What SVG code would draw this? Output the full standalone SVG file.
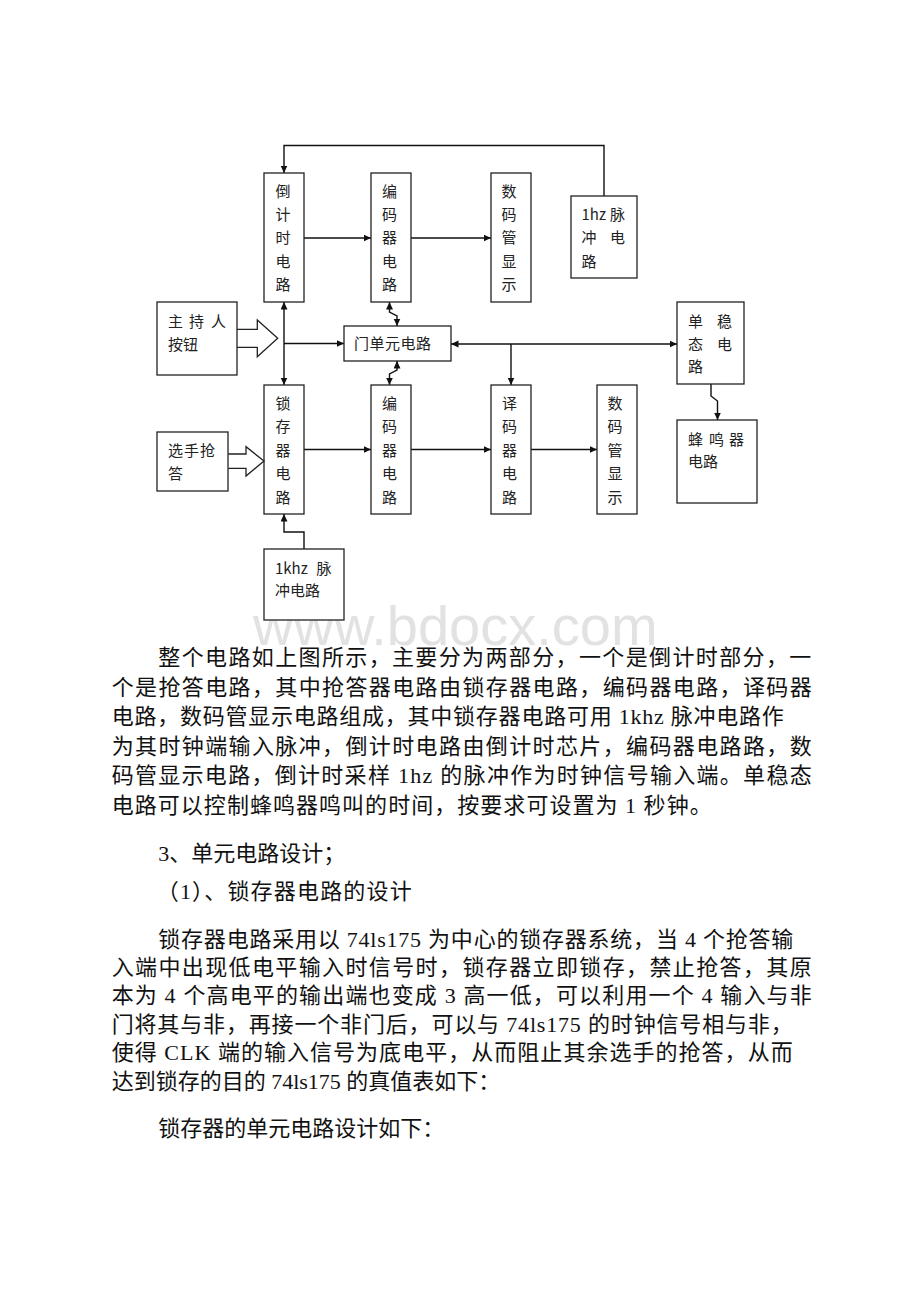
<svg xmlns="http://www.w3.org/2000/svg" width="920" height="1302" viewBox="0 0 920 1302">
<style>
.box{fill:#fff;stroke:#222;stroke-width:1.3}
.blk{fill:#fff;stroke:#222;stroke-width:1.3;stroke-linejoin:miter}
.bt{font-family:"Noto Sans CJK SC","Noto Sans",sans-serif;font-size:15px;fill:#222}
.vt{font-family:"Noto Sans CJK SC","Noto Sans",sans-serif;font-size:15px;fill:#222;text-anchor:middle}
.ln{fill:none;stroke:#111;stroke-width:1.4}
.p{font-family:"Liberation Serif","Noto Sans CJK SC",serif;font-size:22px;fill:#111}
.wm{font-family:"Liberation Sans",Arial,sans-serif;font-size:56px;fill:#e2e2e2}
</style>
<defs>
<marker id="ah" markerWidth="9" markerHeight="9" refX="7.5" refY="3.5" orient="auto-start-reverse" markerUnits="userSpaceOnUse"><path d="M0,0 L7.5,3.5 L0,7 Z" fill="#111"/></marker>
</defs>
<rect width="920" height="1302" fill="#fff"/>
<text class="wm" x="253" y="645">www.bdocx.com</text>

<g id="connectors">
<path class="ln" d="M604,196 V145.5 H284 V173" marker-end="url(#ah)"/>
<path class="ln" d="M304,238 H371" marker-end="url(#ah)"/>
<path class="ln" d="M411,238 H491" marker-end="url(#ah)"/>
<path class="ln" d="M284,302 V385" marker-start="url(#ah)" marker-end="url(#ah)"/>
<path class="ln" d="M284,343.5 H344" marker-end="url(#ah)"/>
<path class="ln" d="M389.5,302 V312 L397,316 V326" marker-start="url(#ah)" marker-end="url(#ah)"/>
<path class="ln" d="M397,361 V370 L389.5,374 V385" marker-start="url(#ah)" marker-end="url(#ah)"/>
<path class="ln" d="M451,344 H677" marker-start="url(#ah)" marker-end="url(#ah)"/>
<path class="ln" d="M511,344 V385" marker-end="url(#ah)"/>
<path class="ln" d="M304,449.5 H371" marker-end="url(#ah)"/>
<path class="ln" d="M411,449.5 H491" marker-end="url(#ah)"/>
<path class="ln" d="M531,449.5 H597" marker-end="url(#ah)"/>
<path class="ln" d="M711,384 V396 L717.5,401 V420" marker-end="url(#ah)"/>
<path class="ln" d="M304,549 V532 H284 V514" marker-end="url(#ah)"/>
</g>

<g id="djs">
<rect class="box" x="264" y="173" width="40" height="129"/>
<text class="vt" x="283" y="197">倒</text><text class="vt" x="283" y="220">计</text><text class="vt" x="283" y="243">时</text><text class="vt" x="283" y="267">电</text><text class="vt" x="283" y="290">路</text>
</g>
<g id="bmq1">
<rect class="box" x="371" y="173" width="40" height="129"/>
<text class="vt" x="389.5" y="197">编</text><text class="vt" x="389.5" y="220">码</text><text class="vt" x="389.5" y="243">器</text><text class="vt" x="389.5" y="267">电</text><text class="vt" x="389.5" y="290">路</text>
</g>
<g id="smg1">
<rect class="box" x="491" y="173" width="40" height="129"/>
<text class="vt" x="509" y="197">数</text><text class="vt" x="509" y="220">码</text><text class="vt" x="509" y="243">管</text><text class="vt" x="509" y="267">显</text><text class="vt" x="509" y="290">示</text>
</g>
<g id="hz1">
<rect class="box" x="571" y="196" width="66" height="82"/>
<text class="bt" x="581.5" y="220">1hz</text><text class="bt" x="610" y="220">脉</text>
<text class="bt" x="581.5" y="243">冲</text><text class="bt" x="610" y="243">电</text>
<text class="bt" x="581.5" y="267">路</text>
</g>
<g id="zcr">
<polyline class="blk" points="237,329.3 257.3,329.3 257.3,320 277.7,338.3 257.3,356.7 257.3,347.3 237,347.3"/>
<rect class="box" x="157" y="302" width="80" height="73"/>
<text class="bt" x="168" y="327">主</text><text class="bt" x="189" y="327">持</text><text class="bt" x="211" y="327">人</text>
<text class="bt" x="168" y="350">按钮</text>
</g>
<g id="mdy">
<rect class="box" x="344" y="326" width="107" height="35"/>
<text class="bt" x="354" y="349" textLength="77">门单元电路</text>
</g>
<g id="dwt">
<rect class="box" x="677" y="302" width="67" height="82"/>
<text class="bt" x="688" y="327">单</text><text class="bt" x="717" y="327">稳</text>
<text class="bt" x="688" y="350">态</text><text class="bt" x="717" y="350">电</text>
<text class="bt" x="688" y="372">路</text>
</g>
<g id="scq">
<rect class="box" x="264" y="385" width="40" height="129"/>
<text class="vt" x="283" y="408.5">锁</text><text class="vt" x="283" y="432">存</text><text class="vt" x="283" y="455.5">器</text><text class="vt" x="283" y="479">电</text><text class="vt" x="283" y="502.5">路</text>
</g>
<g id="bmq2">
<rect class="box" x="371" y="385" width="40" height="129"/>
<text class="vt" x="389.5" y="408.5">编</text><text class="vt" x="389.5" y="432">码</text><text class="vt" x="389.5" y="455.5">器</text><text class="vt" x="389.5" y="479">电</text><text class="vt" x="389.5" y="502.5">路</text>
</g>
<g id="ymq">
<rect class="box" x="491" y="385" width="40" height="129"/>
<text class="vt" x="509.5" y="408.5">译</text><text class="vt" x="509.5" y="432">码</text><text class="vt" x="509.5" y="455.5">器</text><text class="vt" x="509.5" y="479">电</text><text class="vt" x="509.5" y="502.5">路</text>
</g>
<g id="smg2">
<rect class="box" x="597" y="385" width="40" height="129"/>
<text class="vt" x="615" y="408.5">数</text><text class="vt" x="615" y="432">码</text><text class="vt" x="615" y="455.5">管</text><text class="vt" x="615" y="479">显</text><text class="vt" x="615" y="502.5">示</text>
</g>
<g id="fmq">
<rect class="box" x="677" y="420" width="80" height="83"/>
<text class="bt" x="688" y="444.5">蜂</text><text class="bt" x="709" y="444.5">鸣</text><text class="bt" x="729" y="444.5">器</text>
<text class="bt" x="688" y="467">电路</text>
</g>
<g id="xsqd">
<polyline class="blk" points="228.3,454 246,454 246,446.7 264,461 246,476 246,468.3 228.3,468.3"/>
<rect class="box" x="157" y="432" width="71" height="59"/>
<text class="bt" x="168" y="456" textLength="47">选手抢</text>
<text class="bt" x="168" y="479">答</text>
</g>
<g id="khz">
<rect class="box" x="264" y="549" width="80" height="71"/>
<text class="bt" x="275" y="573.5">1khz</text><text class="bt" x="316.5" y="573.5">脉</text>
<text class="bt" x="275" y="596">冲电路</text>
</g>

<g id="text">
<text class="p" x="158.3" y="665" textLength="653" lengthAdjust="spacing">整个电路如上图所示，主要分为两部分，一个是倒计时部分，一</text>
<text class="p" x="111.7" y="694.5" textLength="700" lengthAdjust="spacing">个是抢答电路，其中抢答器电路由锁存器电路，编码器电路，译码器</text>
<text class="p" x="111.7" y="724" textLength="672" lengthAdjust="spacing">电路，数码管显示电路组成，其中锁存器电路可用 1khz 脉冲电路作</text>
<text class="p" x="111.7" y="753.5" textLength="700" lengthAdjust="spacing">为其时钟端输入脉冲，倒计时电路由倒计时芯片，编码器电路路，数</text>
<text class="p" x="111.7" y="783" textLength="700" lengthAdjust="spacing">码管显示电路，倒计时采样 1hz 的脉冲作为时钟信号输入端。单稳态</text>
<text class="p" x="111.7" y="813" textLength="600" lengthAdjust="spacing">电路可以控制蜂鸣器鸣叫的时间，按要求可设置为 1 秒钟。</text>
<text class="p" x="158.3" y="860.5">3、单元电路设计；</text>
<text class="p" x="156.7" y="899" textLength="255" lengthAdjust="spacing">（1）、锁存器电路的设计</text>
<text class="p" x="158.3" y="946.5" textLength="635" lengthAdjust="spacing">锁存器电路采用以 74ls175 为中心的锁存器系统，当 4 个抢答输</text>
<text class="p" x="111.7" y="974.5" textLength="700" lengthAdjust="spacing">入端中出现低电平输入时信号时，锁存器立即锁存，禁止抢答，其原</text>
<text class="p" x="111.7" y="1002.5" textLength="700" lengthAdjust="spacing">本为 4 个高电平的输出端也变成 3 高一低，可以利用一个 4 输入与非</text>
<text class="p" x="111.7" y="1031.5" textLength="681" lengthAdjust="spacing">门将其与非，再接一个非门后，可以与 74ls175 的时钟信号相与非，</text>
<text class="p" x="111.7" y="1060" textLength="681" lengthAdjust="spacing">使得 CLK 端的输入信号为底电平，从而阻止其余选手的抢答，从而</text>
<text class="p" x="111.7" y="1088.5">达到锁存的目的 74ls175 的真值表如下：</text>
<text class="p" x="158.3" y="1135.5">锁存器的单元电路设计如下：</text>
</g>
</svg>
